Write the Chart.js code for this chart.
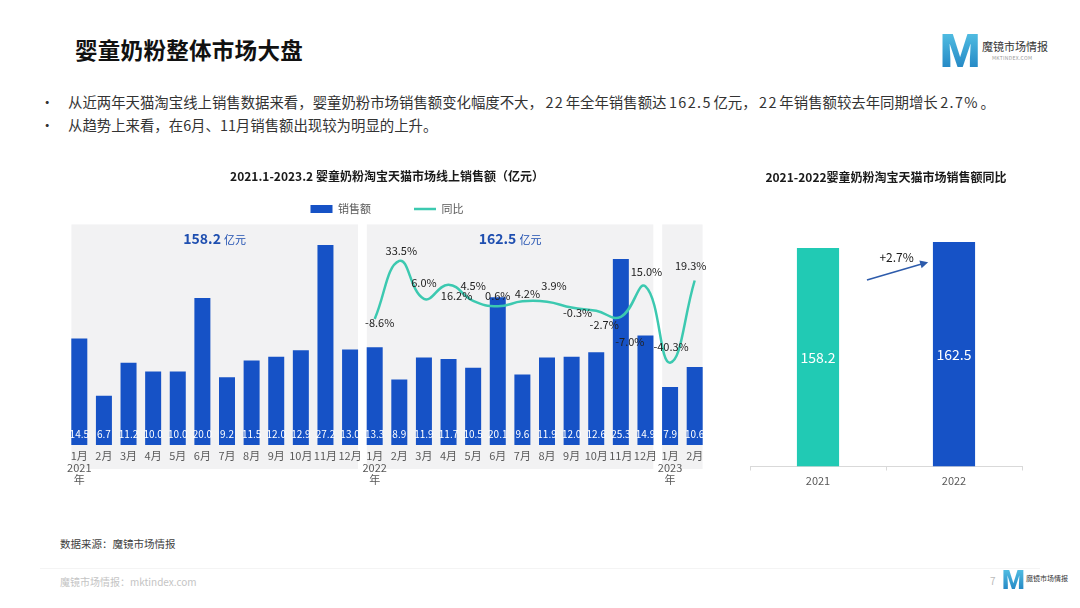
<!DOCTYPE html>
<html>
<head>
<meta charset="utf-8">
<script src="https://cdn.jsdelivr.net/npm/chart.js@4.4.1/dist/chart.umd.min.js"></script>
<style>
  html, body { margin: 0; padding: 0; background: #fff; }
  body { width: 1080px; height: 608px; position: relative; overflow: hidden;
         font-family: "Noto Sans CJK SC", "Noto Sans", sans-serif; color: #262626; }
  .title { position: absolute; left: 75px; top: 33px; font-size: 22.5px; font-weight: 700; color: #111; letter-spacing: 0.3px; }
  .bullet { position: absolute; left: 40px; font-size: 14.4px; color: #333; white-space: nowrap; }
  .bullet span.dot { display: inline-block; width: 28px; }
  .bullet span.n { letter-spacing: 1.4px; margin: 0 1.5px 0 2.5px; }
  .logo { position: absolute; left: 940px; top: 28px; }
  .logo .m { position: absolute; left: 0; top: 0; font: 900 46px Roboto, sans-serif; line-height: 46px;
             background: linear-gradient(180deg, #57c4e6, #1d7fc0); -webkit-background-clip: text; color: transparent; }
  .logo .name { position: absolute; left: 42px; top: 10px; font-size: 11px; color: #333; white-space: nowrap; }
  .logo .url { position: absolute; left: 52px; top: 26px; font-size: 5px; color: #999; white-space: nowrap; letter-spacing: 0.3px; }
  .source { position: absolute; left: 60px; top: 536px; font-size: 10.5px; color: #404040; }
  .rule { position: absolute; left: 40px; right: 40px; top: 568px; border-top: 1px solid #f4f4f4; }
  .foot { position: absolute; left: 60px; top: 574px; font-size: 10px; color: #c4c4c4; }
  .page { position: absolute; left: 990px; top: 573px; font-size: 10px; color: #bbb; }
  .logo2 { position: absolute; left: 1002px; top: 567px; }
  .logo2 .m { position: absolute; left: 0; top: 0; font: 900 26px Roboto, sans-serif; line-height: 26px;
              background: linear-gradient(180deg, #57c4e6, #1d7fc0); -webkit-background-clip: text; color: transparent; }
  .logo2 .name { position: absolute; left: 24px; top: 6px; font-size: 7px; color: #333; white-space: nowrap; }
  #trendBox { position: absolute; left: 40px; top: 160px; width: 680px; height: 340px; }
  #yearBox { position: absolute; left: 740px; top: 160px; width: 300px; height: 340px; }
</style>
</head>
<body>
<div class="title">婴童奶粉整体市场大盘</div>
<div class="logo"><div class="m">M</div><div class="name">魔镜市场情报</div><div class="url">MKTINDEX.COM</div></div>
<div class="bullet" style="top:91px"><span class="dot">•</span>从近两年天猫淘宝线上销售数据来看，婴童奶粉市场销售额变化幅度不大，<span class="n">22</span>年全年销售额达<span class="n">162.5</span>亿元，<span class="n">22</span>年销售额较去年同期增长<span class="n">2.7%</span>。</div>
<div class="bullet" style="top:114px"><span class="dot">•</span>从趋势上来看，在6月、11月销售额出现较为明显的上升。</div>

<div id="trendBox"><canvas id="trend"></canvas></div>
<div id="yearBox"><canvas id="year"></canvas></div>

<div class="source">数据来源：魔镜市场情报</div>
<div class="rule"></div>
<div class="foot">魔镜市场情报：mktindex.com</div>
<div class="page">7</div>
<div class="logo2"><div class="m">M</div><div class="name">魔镜市场情报</div></div>

<script>
// monthly data, 2021.1 - 2023.2
const categories = [
  ['1月', '2021', '年'], '2月', '3月', '4月', '5月', '6月', '7月', '8月', '9月', '10月', '11月', '12月',
  ['1月', '2022', '年'], '2月', '3月', '4月', '5月', '6月', '7月', '8月', '9月', '10月', '11月', '12月',
  ['1月', '2023', '年'], '2月'
];
const sales = [14.5, 6.7, 11.2, 10.0, 10.0, 20.0, 9.2, 11.5, 12.0, 12.9, 27.2, 13.0,
               13.3, 8.9, 11.9, 11.7, 10.5, 20.1, 9.6, 11.9, 12.0, 12.6, 25.3, 14.9,
               7.9, 10.6];
const yoy = [null, null, null, null, null, null, null, null, null, null, null, null,
             -8.6, 33.5, 6.0, 16.2, 4.5, 0.6, 4.2, 3.9, -0.3, -2.7, -7.0, 15.0,
             -40.3, 19.3];
// year bands: [first index, last index, total label]
const bands = [[0, 11, '158.2'], [12, 23, '162.5'], [24, 25, null]];

// yearly totals
const years = ['2021', '2022'];
const yearTotals = [158.2, 162.5];
const growthText = '+2.7%';

const BLUE = '#1652c6';
const TEAL = '#3cc9b0';
const TEAL2 = '#21cab4';

// where each yoy label sits relative to its point
const yoyLabelOffset = {
  12: [5, 4], 13: [2, -10], 14: [0, -16], 15: [8, 11], 16: [0, -15], 17: [0, -10], 18: [5, -8],
  19: [7, -16], 20: [6, 5], 21: [8, 14], 22: [9, 25], 23: [1, -15], 24: [1, -16], 25: [-4, -15]
};

Chart.defaults.font.family = '"Noto Sans CJK SC", "Noto Sans", sans-serif';
Chart.defaults.animation = false;

const bandPlugin = {
  id: 'bands',
  beforeDraw(chart) {
    const { ctx, chartArea, scales: { x } } = chart;
    const half = (x.getPixelForValue(1) - x.getPixelForValue(0)) * 0.32;
    ctx.save();
    ctx.fillStyle = '#f2f2f3';
    bands.forEach(([a, b]) => {
      const l = x.getPixelForValue(a) - half;
      const r = x.getPixelForValue(b) + half;
      ctx.fillRect(l, chartArea.top, r - l, chartArea.bottom - chartArea.top + 24);
    });
    ctx.restore();
  }
};

const trendLabels = {
  id: 'trendLabels',
  afterDatasetsDraw(chart) {
    const { ctx, chartArea, scales: { x } } = chart;
    ctx.save();
    // values inside bars
    const barMeta = chart.getDatasetMeta(0);
    ctx.fillStyle = '#fff';
    ctx.font = '10px "Noto Sans CJK SC", sans-serif';
    ctx.textAlign = 'center';
    ctx.textBaseline = 'middle';
    barMeta.data.forEach((bar, i) => {
      ctx.fillText(sales[i].toFixed(1), bar.x, chartArea.bottom - 11);
    });
    // yoy labels
    const lineMeta = chart.getDatasetMeta(1);
    ctx.fillStyle = '#222';
    ctx.font = '11px "Noto Sans CJK SC", sans-serif';
    lineMeta.data.forEach((pt, i) => {
      if (yoy[i] === null) return;
      const off = yoyLabelOffset[i] || [0, -10];
      ctx.fillText(yoy[i].toFixed(1) + '%', pt.x + off[0], pt.y + off[1]);
    });
    // yearly totals over each band
    bands.forEach(([a, b, total]) => {
      if (!total) return;
      const cx = (x.getPixelForValue(a) + x.getPixelForValue(b)) / 2;
      const y = chartArea.top + 14;
      ctx.font = 'bold 14px "Noto Sans CJK SC", sans-serif';
      const w1 = ctx.measureText(total + ' ').width;
      ctx.font = '11px "Noto Sans CJK SC", sans-serif';
      const w2 = ctx.measureText('亿元').width;
      const left = cx - (w1 + w2) / 2;
      ctx.textAlign = 'left';
      ctx.fillStyle = '#1f4fb0';
      ctx.font = 'bold 14px "Noto Sans CJK SC", sans-serif';
      ctx.fillText(total, left, y);
      ctx.font = '11px "Noto Sans CJK SC", sans-serif';
      ctx.fillText('亿元', left + w1, y + 1);
      ctx.textAlign = 'center';
    });
    ctx.restore();
  }
};

new Chart(document.getElementById('trend'), {
  data: {
    labels: categories,
    datasets: [
      {
        type: 'bar', label: '销售额', data: sales, yAxisID: 'y',
        backgroundColor: BLUE, barPercentage: 0.65, categoryPercentage: 1,
        pointStyle: 'rect', order: 1
      },
      {
        type: 'line', label: '同比', data: yoy, yAxisID: 'y2',
        borderColor: TEAL, backgroundColor: TEAL, borderWidth: 2.5,
        pointRadius: 0, tension: 0.45, pointStyle: 'line', order: 0
      }
    ]
  },
  options: {
    responsive: true,
    maintainAspectRatio: false,
    layout: { padding: { left: 27, right: 13, top: 0, bottom: 8.7 } },
    plugins: {
      title: {
        display: true,
        text: '2021.1-2023.2 婴童奶粉淘宝天猫市场线上销售额（亿元）',
        color: '#1a1a1a',
        font: { size: 12, weight: 'bold' },
        padding: { top: 9, bottom: 10 }
      },
      legend: {
        labels: {
          usePointStyle: true,
          pointStyleWidth: 22,
          boxHeight: 8,
          color: '#595959',
          font: { size: 11 },
          sort: (a, b) => a.datasetIndex - b.datasetIndex,
          generateLabels(chart) {
            const items = Chart.defaults.plugins.legend.labels.generateLabels(chart);
            items.forEach(it => {
              if (it.datasetIndex === 0) it.text = it.text + '\u3000\u3000\u3000';
              if (it.datasetIndex === 1) it.lineWidth = 2.5;
            });
            return items;
          }
        }
      },
      tooltip: { enabled: false }
    },
    scales: {
      x: {
        grid: { display: false, drawTicks: false },
        border: { display: false },
        ticks: { color: '#595959', font: { size: 11, lineHeight: 1.1 }, padding: 5, maxRotation: 0, autoSkip: false }
      },
      y: { display: false, min: 0, max: 30 },
      y2: { display: false, min: -100, max: 60 }
    }
  },
  plugins: [bandPlugin, trendLabels]
});

const yearLabels = {
  id: 'yearLabels',
  afterDatasetsDraw(chart) {
    const { ctx, scales: { x, y } } = chart;
    const meta = chart.getDatasetMeta(0);
    ctx.save();
    ctx.fillStyle = '#fff';
    ctx.font = '14px "Noto Sans CJK SC", sans-serif';
    ctx.textAlign = 'center';
    ctx.textBaseline = 'middle';
    meta.data.forEach((bar, i) => {
      ctx.fillText(yearTotals[i].toFixed(1), bar.x, (bar.y + bar.base) / 2);
    });
    // growth arrow between the two bars
    const x0 = x.getPixelForValue(0), x1 = x.getPixelForValue(1);
    const sx = x0 + (x1 - x0) * 0.36, sy = y.getPixelForValue(135);
    const ex = x0 + (x1 - x0) * 0.81, ey = y.getPixelForValue(148);
    const ang = Math.atan2(ey - sy, ex - sx);
    ctx.strokeStyle = '#2d5bab';
    ctx.fillStyle = '#2d5bab';
    ctx.lineWidth = 1.5;
    ctx.beginPath();
    ctx.moveTo(sx, sy);
    ctx.lineTo(ex - 5 * Math.cos(ang), ey - 5 * Math.sin(ang));
    ctx.stroke();
    ctx.beginPath();
    ctx.moveTo(ex, ey);
    ctx.lineTo(ex - 8 * Math.cos(ang) + 4 * Math.sin(ang), ey - 8 * Math.sin(ang) - 4 * Math.cos(ang));
    ctx.lineTo(ex - 8 * Math.cos(ang) - 4 * Math.sin(ang), ey - 8 * Math.sin(ang) + 4 * Math.cos(ang));
    ctx.closePath();
    ctx.fill();
    ctx.fillStyle = '#1a1a1a';
    ctx.font = '12px "Noto Sans CJK SC", sans-serif';
    ctx.fillText(growthText, (sx + ex) / 2 - 1, Math.min(sy, ey) - 5);
    ctx.restore();
  }
};

new Chart(document.getElementById('year'), {
  type: 'bar',
  data: {
    labels: years,
    datasets: [{
      label: '销售额', data: yearTotals,
      backgroundColor: [TEAL2, BLUE], barPercentage: 0.31, categoryPercentage: 1
    }]
  },
  options: {
    responsive: true,
    maintainAspectRatio: false,
    layout: { padding: { left: 10, right: 18, top: 0, bottom: 8.3 } },
    plugins: {
      title: {
        display: true,
        text: '2021-2022婴童奶粉淘宝天猫市场销售额同比',
        color: '#1a1a1a',
        font: { size: 12, weight: 'bold' },
        padding: { top: 10, bottom: 44.6 }
      },
      legend: { display: false },
      tooltip: { enabled: false }
    },
    scales: {
      x: {
        grid: { drawOnChartArea: false, tickLength: 4, color: '#d9d9d9' },
        border: { color: '#d9d9d9' },
        ticks: { color: '#595959', font: { size: 11 }, padding: 4 }
      },
      y: { display: false, min: 0, max: 172 }
    }
  },
  plugins: [yearLabels]
});
</script>
</body>
</html>
